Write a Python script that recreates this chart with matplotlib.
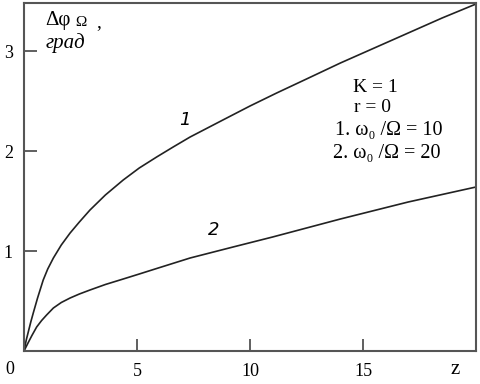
import matplotlib.pyplot as plt

# curve 1 : w0/Omega = 10
z1 = [0, 0.1, 0.2, 0.3, 0.41, 0.6, 0.85, 1.05, 1.3, 1.65, 2.04, 2.45, 2.92, 3.6, 4.39,
      5.1, 5.87, 6.6, 7.35, 8.8, 10.0, 11.18, 12.5, 14.0, 15.5, 17.0, 18.5, 20.0]
f1 = [0, 0.11, 0.2, 0.29, 0.38, 0.53, 0.71, 0.82, 0.93, 1.06, 1.18, 1.29, 1.41, 1.56, 1.71,
      1.83, 1.94, 2.04, 2.14, 2.31, 2.45, 2.58, 2.72, 2.88, 3.03, 3.18, 3.33, 3.47]
# curve 2 : w0/Omega = 20
z2 = [0, 0.1, 0.2, 0.35, 0.56, 0.78, 1.0, 1.3, 1.65, 2.04, 2.45, 2.92, 3.6, 4.39, 5.1,
      5.87, 7.35, 9.25, 11.0, 12.5, 14.0, 17.0, 20.0]
f2 = [0, 0.045, 0.09, 0.155, 0.24, 0.305, 0.36, 0.43, 0.485, 0.53, 0.57, 0.61, 0.665, 0.72, 0.77,
      0.825, 0.93, 1.04, 1.14, 1.23, 1.32, 1.49, 1.64]

xt = [5, 10, 15]
yt = [1, 2, 3]

plt.rcParams['font.family'] = ['Liberation Serif', 'DejaVu Serif']

fig = plt.figure(figsize=(4.81, 3.84), dpi=100)
ax = fig.add_axes([24/481, 1-351/384, 452/481, 348/384])

ax.plot(z1, f1, color='#222222', lw=1.2)
ax.plot(z2, f2, color='#222222', lw=1.2)

ax.set_xlim(0, 20)
ax.set_ylim(0, 3.48)
ax.set_xticks(xt)
ax.set_yticks(yt)
ax.tick_params(direction='in', length=9, width=1.2, color='#444444', labelsize=13, pad=9)
ax.tick_params(axis='y', pad=8)
for s in ax.spines.values():
    s.set_color('#555555')
    s.set_linewidth(1.5)

# corner labels
ax.text(-14/452, -19/348, '0', transform=ax.transAxes, fontsize=13, ha='center', va='center')
ax.text(431/452, -19/348, 'z', transform=ax.transAxes, fontsize=15, ha='center', va='center')

# y axis caption
ax.text(0.93, 3.31, 'Δφ', fontsize=15, ha='left', va='center')
ax.text(2.25, 3.29, 'Ω', fontsize=11, ha='left', va='center')
ax.text(3.2, 3.28, ',', fontsize=14, ha='left', va='center')
ax.text(0.95, 3.08, 'град', fontsize=15, style='italic', ha='left', va='center')

# curve labels
ax.text(7.1, 2.31, '1', fontsize=13, style='italic', family='DejaVu Sans', ha='center', va='center')
ax.text(8.4, 1.21, '2', fontsize=13, style='italic', family='DejaVu Sans', ha='center', va='center')

# parameters
ax.text(14.56, 2.63, 'K = 1', fontsize=14, ha='left', va='center')
ax.text(14.6, 2.43, 'r = 0', fontsize=14, ha='left', va='center')
ax.text(13.76, 2.2, '1. ω₀ /Ω = 10', fontsize=14.5, ha='left', va='center')
ax.text(13.67, 1.97, '2. ω₀ /Ω = 20', fontsize=14.5, ha='left', va='center')

fig.savefig('out.png', dpi=100)
